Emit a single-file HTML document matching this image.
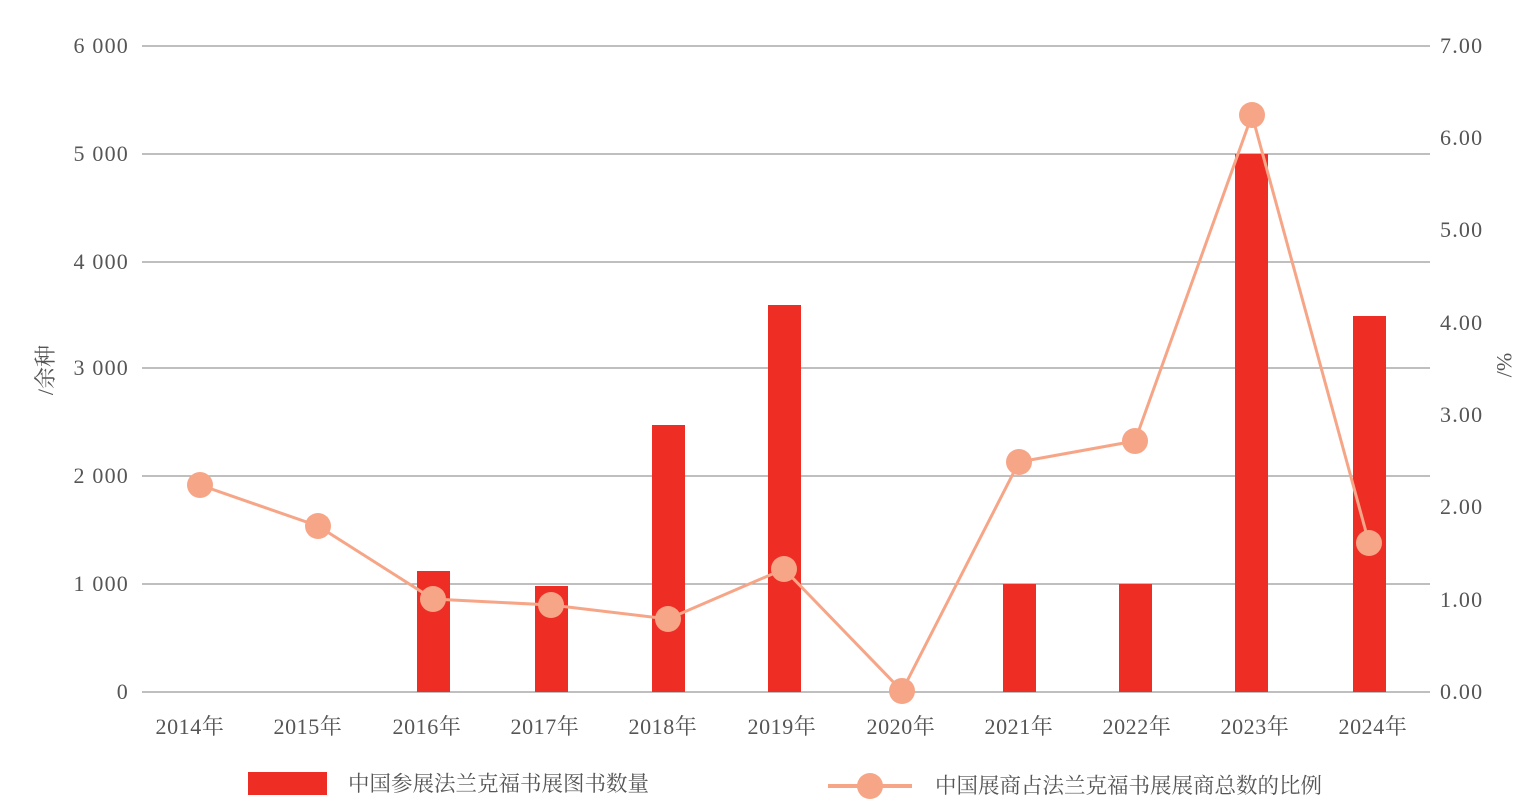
<!DOCTYPE html>
<html><head><meta charset="utf-8"><style>
body{margin:0;background:#fff}
text{font-family:"Liberation Serif","Noto Serif CJK SC",serif;fill:#555;font-size:22px}
.n{letter-spacing:1.2px}
.y{letter-spacing:0.6px}
.l{font-size:21.5px}
</style></head><body>
<svg width="1527" height="807" xmlns="http://www.w3.org/2000/svg">
<g stroke="#999" stroke-width="1.3">
<line x1="142" y1="46" x2="1430" y2="46"/><line x1="142" y1="154" x2="1430" y2="154"/>
<line x1="142" y1="262" x2="1430" y2="262"/><line x1="142" y1="368" x2="1430" y2="368"/>
<line x1="142" y1="476" x2="1430" y2="476"/><line x1="142" y1="584" x2="1430" y2="584"/>
<line x1="142" y1="692" x2="1430" y2="692"/>
</g>
<g text-anchor="end" class="n">
<text x="129" y="53">6 000</text><text x="129" y="161">5 000</text><text x="129" y="269">4 000</text>
<text x="129" y="375">3 000</text><text x="129" y="483">2 000</text><text x="129" y="591">1 000</text>
<text x="129" y="699">0</text>
</g>
<g text-anchor="start" class="n">
<text x="1440" y="53">7.00</text><text x="1440" y="145">6.00</text><text x="1440" y="237">5.00</text>
<text x="1440" y="330">4.00</text><text x="1440" y="422">3.00</text><text x="1440" y="514">2.00</text>
<text x="1440" y="607">1.00</text><text x="1440" y="699">0.00</text>
</g>
<text transform="translate(53,370) rotate(-90)" text-anchor="middle">/余种</text>
<text transform="translate(1497,365) rotate(90)" text-anchor="middle">%/</text>
<g fill="#ee2d24">
<rect x="417" y="571" width="33" height="121"/><rect x="535" y="586" width="33" height="106"/>
<rect x="652" y="425" width="33" height="267"/><rect x="768" y="305" width="33" height="387"/>
<rect x="1003" y="584" width="33" height="108"/><rect x="1119" y="584" width="33" height="108"/>
<rect x="1235" y="154" width="33" height="538"/><rect x="1353" y="316" width="33" height="376"/>
</g>
<polyline fill="none" stroke="#f7a587" stroke-width="3" points="200,485 318,526 433,599 551,605 668,619 784,569 902,691 1019,462 1135,441 1252,115 1369,543"/>
<g fill="#f7a587">
<circle cx="200" cy="485" r="13"/><circle cx="318" cy="526" r="13"/><circle cx="433" cy="599" r="13"/>
<circle cx="551" cy="605" r="13"/><circle cx="668" cy="619" r="13"/><circle cx="784" cy="569" r="13"/>
<circle cx="902" cy="691" r="13"/><circle cx="1019" cy="462" r="13"/><circle cx="1135" cy="441" r="13"/>
<circle cx="1252" cy="115" r="13"/><circle cx="1369" cy="543" r="13"/>
</g>
<g text-anchor="middle" class="y">
<text x="190" y="734">2014年</text><text x="308" y="734">2015年</text><text x="427" y="734">2016年</text>
<text x="545" y="734">2017年</text><text x="663" y="734">2018年</text><text x="782" y="734">2019年</text>
<text x="901" y="734">2020年</text><text x="1019" y="734">2021年</text><text x="1137" y="734">2022年</text>
<text x="1255" y="734">2023年</text><text x="1373" y="734">2024年</text>
</g>
<rect x="248" y="772" width="79" height="23" fill="#ee2d24"/>
<text x="348" y="791" class="l">中国参展法兰克福书展图书数量</text>
<line x1="828" y1="786" x2="912" y2="786" stroke="#f7a587" stroke-width="4"/>
<circle cx="870" cy="786" r="13" fill="#f7a587"/>
<text x="935" y="793" class="l">中国展商占法兰克福书展展商总数的比例</text>
</svg>
</body></html>
